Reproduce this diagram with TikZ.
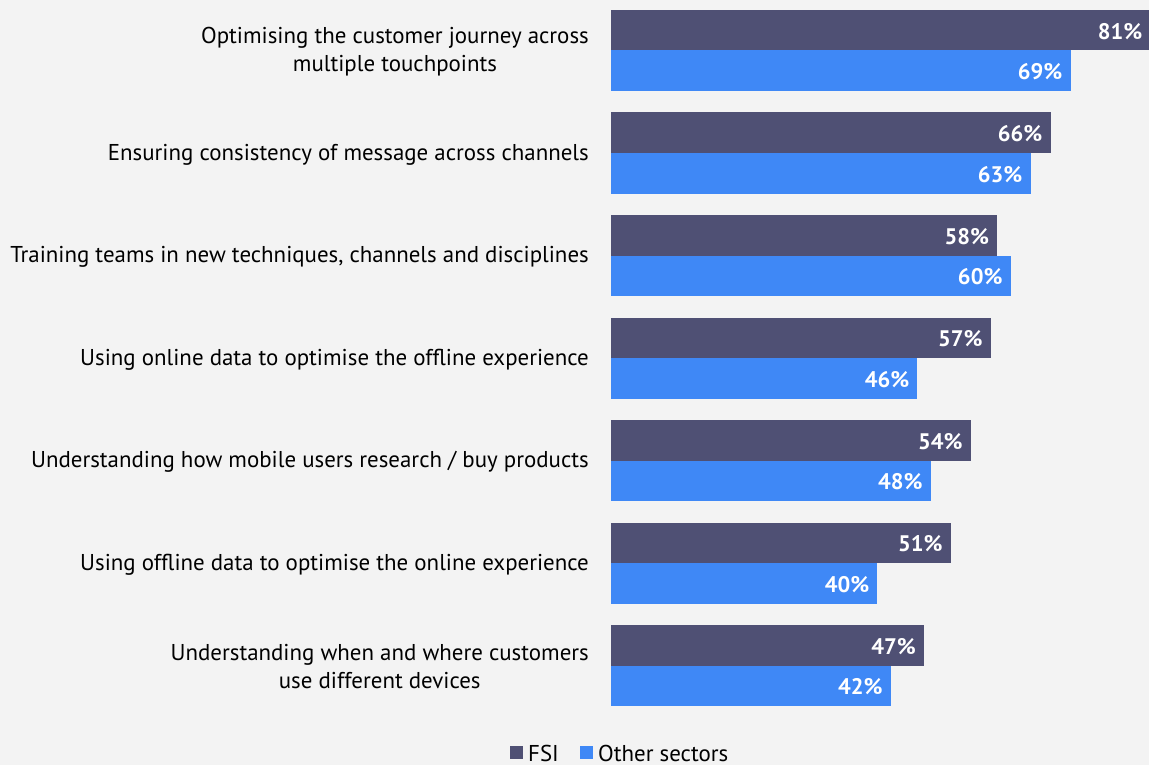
\documentclass[tikz,border=0pt]{standalone}
\usepackage{fontspec}
\setmainfont{PT Sans}
\definecolor{fsicol}{HTML}{4F5074}
\definecolor{othcol}{HTML}{3F88F6}
\definecolor{bgcol}{HTML}{F3F3F3}
\tikzset{
  catlabel/.style={anchor=east,align=center,font=\fontsize{22.9}{28}\selectfont,text=black,inner sep=0pt},
  vallabel/.style={anchor=east,font=\fontsize{22.5}{26}\selectfont\bfseries,text=white,inner sep=0pt},
  leglabel/.style={anchor=west,font=\fontsize{22.9}{26}\selectfont,text=black,inner sep=0pt}
}
\begin{document}
\begin{tikzpicture}[x=1pt,y=-1pt]
      \fill[bgcol] (0,0) rectangle (1149,765);
      \useasboundingbox (0,0) rectangle (1149,765);
      \foreach \i/\fsi/\oth/\txt in {0/81/69/{Optimising the customer journey across\\multiple touchpoints},
          1/66/63/{Ensuring consistency of message across channels},
          2/58/60/{Training teams in new techniques, channels and disciplines},
          3/57/46/{Using online data to optimise the offline experience},
          4/54/48/{Understanding how mobile users research / buy products},
          5/51/40/{Using offline data to optimise the online experience},
          6/47/42/{Understanding when and where customers\\use different devices}} {
        \fill[fsicol] (611,10+102.5*\i) rectangle (611+6.66*\fsi,50.5+102.5*\i);
        \fill[othcol] (611,50.5+102.5*\i) rectangle (611+6.66*\oth,91+102.5*\i);
        \node[vallabel] (f\i) at (603+6.66*\fsi,31.5+102.5*\i) {\fsi\%};
        \node[vallabel] (o\i) at (603+6.66*\oth,72+102.5*\i) {\oth\%};
        \node[catlabel] (c\i) at (589,52+102.5*\i) {\txt};
      }
      % legend
      \fill[fsicol] (510,746) rectangle (523,759);
      \node[leglabel] (lf) at (528,753) {FSI};
      \fill[othcol] (580,746) rectangle (593,759);
      \node[leglabel] (lo) at (598,753) {Other sectors};
    \end{tikzpicture}
\end{document}
